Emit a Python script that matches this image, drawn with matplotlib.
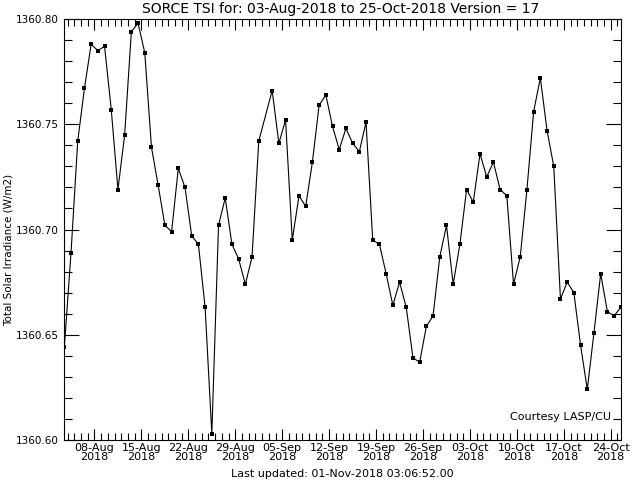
import matplotlib
matplotlib.use('Agg')
import matplotlib.pyplot as plt
import matplotlib.dates as mdates
import numpy as np
import pandas as pd

# daily SORCE TSI values (W/m^2), 03-Aug-2018 12:00 onwards, nan = missing day
tsi = [1360.644, 1360.689, 1360.742, 1360.767, 1360.788, 1360.785, 1360.787, 1360.757,
       1360.719, 1360.745, 1360.794, 1360.798, 1360.784, 1360.739, 1360.721, 1360.702,
       1360.699, 1360.729, 1360.720, 1360.697, 1360.693, 1360.663, 1360.603, 1360.702,
       1360.715, 1360.693, 1360.686, 1360.674, 1360.687, 1360.742, np.nan, 1360.766,
       1360.741, 1360.752, 1360.695, 1360.716, 1360.711, 1360.732, 1360.759, 1360.764,
       1360.749, 1360.738, 1360.748, 1360.741, 1360.737, 1360.751, 1360.695, 1360.693,
       1360.679, 1360.664, 1360.675, 1360.663, 1360.639, 1360.637, 1360.654, 1360.659,
       1360.687, 1360.702, 1360.674, 1360.693, 1360.719, 1360.713, 1360.736, 1360.725,
       1360.732, 1360.719, 1360.716, 1360.674, 1360.687, 1360.719, 1360.756, 1360.772,
       1360.747, 1360.730, 1360.667, 1360.675, 1360.670, 1360.645, 1360.624, 1360.651,
       1360.679, 1360.661, 1360.659, 1360.663]
first_day = '2018-08-03 12:00'
x_start = '2018-08-03 12:00'
x_end = '2018-10-25 12:00'
major_start = '2018-08-08'
major_end = '2018-10-24'
y_ticks = [1360.60, 1360.65, 1360.70, 1360.75, 1360.80]

title = 'SORCE TSI for: 03-Aug-2018 to 25-Oct-2018 Version = 17'
ylab = 'Total Solar Irradiance (W/m2)'
updated = 'Last updated: 01-Nov-2018 03:06:52.00'
courtesy = 'Courtesy LASP/CU'

dates = pd.date_range(first_day, periods=len(tsi), freq='D')
vals = np.array(tsi)
ok = ~np.isnan(vals)

fig = plt.figure(figsize=(6.4, 4.8), dpi=100)
ax = fig.add_axes([0.1005, 0.0833, 0.8695, 0.8771])

ax.plot(dates[ok], vals[ok], color='black', linewidth=0.8,
        marker='s', markersize=2.6, markeredgewidth=0)

ax.set_xlim(pd.Timestamp(x_start), pd.Timestamp(x_end))
ax.set_ylim(1360.60, 1360.80)

major = pd.date_range(major_start, major_end, freq='7D')
ax.set_xticks(major)
ax.xaxis.set_minor_locator(mdates.DayLocator())
ax.xaxis.set_major_formatter(mdates.DateFormatter('%d-%b\n%Y'))

ax.set_yticks(y_ticks)
ax.set_yticklabels(['%.2f' % v for v in y_ticks])
ax.yaxis.set_minor_locator(plt.MultipleLocator(0.01))

ax.tick_params(which='both', direction='in', top=True, right=True,
               colors='black', width=0.8)
ax.tick_params(axis='x', which='major', length=8, pad=2, labelsize=8)
ax.tick_params(axis='x', which='minor', length=5)
ax.tick_params(axis='y', which='major', length=11, pad=4, labelsize=7.5)
ax.tick_params(axis='y', which='minor', length=6)
for lbl in ax.get_xticklabels():
    lbl.set_linespacing(0.85)

for sp in ax.spines.values():
    sp.set_linewidth(0.8)

fig.text(0.014, 0.48, ylab, rotation=90, ha='center', va='center', fontsize=7.5)
fig.text(0.533, 0.981, title, ha='center', va='center', fontsize=10)
fig.text(0.535, 0.013, updated, ha='center', va='center', fontsize=8)
ax.text(0.983, 0.055, courtesy, transform=ax.transAxes, ha='right', va='center',
        fontsize=8)

fig.savefig('out.png', dpi=100)
